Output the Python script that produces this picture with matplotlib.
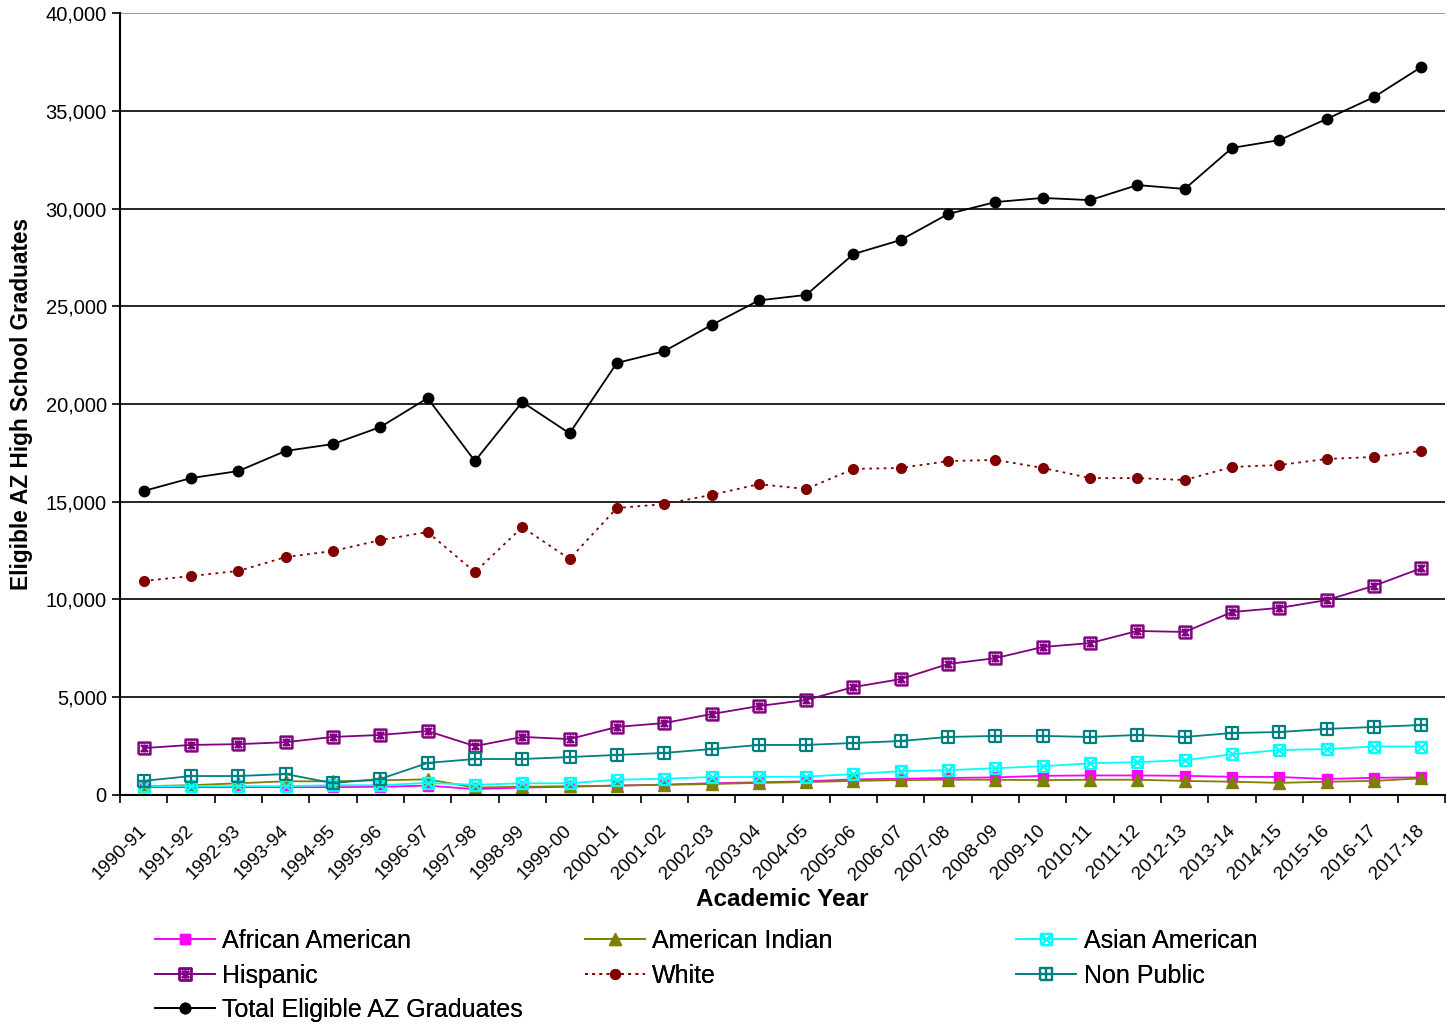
import matplotlib
matplotlib.use("Agg")
import matplotlib.pyplot as plt
from matplotlib.path import Path
from matplotlib.ticker import FuncFormatter, FixedLocator
import numpy as np

plt.rcParams['font.family'] = ['Liberation Sans', 'DejaVu Sans']

years = ["1990-91", "1991-92", "1992-93", "1993-94", "1994-95", "1995-96", "1996-97",
         "1997-98", "1998-99", "1999-00", "2000-01", "2001-02", "2002-03", "2003-04",
         "2004-05", "2005-06", "2006-07", "2007-08", "2008-09", "2009-10", "2010-11",
         "2011-12", "2012-13", "2013-14", "2014-15", "2015-16", "2016-17", "2017-18"]

african_american = [400, 400, 400, 400, 400, 420, 480, 300, 380, 420, 480, 530, 600, 650,
                    700, 800, 830, 870, 900, 980, 1000, 1000, 980, 930, 920, 820, 880, 900]
american_indian = [450, 500, 600, 700, 700, 750, 800, 380, 420, 450, 480, 520, 560, 620,
                   660, 720, 760, 780, 780, 760, 780, 780, 720, 680, 620, 680, 720, 850]
asian_american = [450, 450, 450, 450, 500, 500, 620, 520, 600, 600, 780, 830, 920, 920,
                  940, 1070, 1220, 1270, 1370, 1470, 1620, 1680, 1780, 2080, 2300, 2350, 2480, 2480]
hispanic = [2400, 2560, 2600, 2700, 2970, 3070, 3270, 2500, 2970, 2860, 3480, 3680, 4140, 4550,
            4860, 5520, 5930, 6700, 7000, 7570, 7770, 8390, 8340, 9360, 9570, 9970, 10700, 11600]
white = [10950, 11200, 11460, 12170, 12480, 13040, 13450, 11400, 13700, 12070, 14680, 14880,
         15350, 15900, 15650, 16680, 16730, 17080, 17140, 16730, 16210, 16210, 16110, 16780,
         16880, 17190, 17290, 17600]
non_public = [720, 970, 970, 1070, 610, 820, 1640, 1840, 1840, 1940, 2050, 2150, 2350, 2560,
              2560, 2660, 2760, 2970, 3020, 3020, 2970, 3070, 2970, 3170, 3220, 3380, 3480, 3580]
total = [15550, 16210, 16570, 17600, 17950, 18820, 20300, 17080, 20100, 18500, 22100, 22700,
         24040, 25300, 25580, 27670, 28390, 29720, 30330, 30540, 30430, 31200, 31000, 33100,
         33500, 34580, 35700, 37240]

# boxed markers like the Excel ones
M, L = Path.MOVETO, Path.LINETO
sq = [(-1, -1), (1, -1), (1, 1), (-1, 1), (-1, -1)]
box_x = Path(sq + [(-1, -1), (1, 1), (-1, 1), (1, -1)], [M, L, L, L, L, M, L, M, L])
box_plus = Path(sq + [(0, -1), (0, 1), (-1, 0), (1, 0)], [M, L, L, L, L, M, L, M, L])
box_star = Path(sq + [(-0.6, -0.6), (0.6, 0.6), (-0.6, 0.6), (0.6, -0.6), (0, -0.7), (0, 0.7)],
                [M, L, L, L, L, M, L, M, L, M, L])

fig = plt.figure(figsize=(14.53, 10.25), dpi=100)
ax = fig.add_axes([0.0826, 0.2244, 0.9119, 0.7629])
x = np.arange(len(years))

h_afam, = ax.plot(x, african_american, color='#FF00FF', lw=1.3, marker='s', ms=7,
                  label='African American')
h_amind, = ax.plot(x, american_indian, color='#808000', lw=1.3, marker='^', ms=8,
                   label='American Indian')
h_asian, = ax.plot(x, asian_american, color='#00FFFF', lw=1.3, marker=box_x, ms=8,
                   mfc='none', mew=1.6, label='Asian American')
h_hisp, = ax.plot(x, hispanic, color='#800080', lw=1.3, marker=box_star, ms=8.5,
                  mfc='none', mew=1.8, label='Hispanic')
h_white, = ax.plot(x, white, color='#800000', lw=1.3, ls=(0, (1.5, 2.5)), marker='o', ms=7,
                   label='White')
h_np, = ax.plot(x, non_public, color='#008080', lw=1.3, marker=box_plus, ms=8.5,
                mfc='none', mew=1.6, label='Non Public')
h_tot, = ax.plot(x, total, color='black', lw=1.3, marker='o', ms=7.5,
                 label='Total Eligible AZ Graduates')

ax.set_xlim(-0.5, len(years) - 0.5)
ax.set_ylim(0, 40000)
ax.set_yticks(np.arange(0, 40001, 5000))
ax.yaxis.set_major_formatter(FuncFormatter(lambda v, p: f"{int(v):,}"))
for yv in np.arange(5000, 40001, 5000):
    ax.axhline(yv, color='black' if yv < 40000 else '#888888', lw=1.2, zorder=0)

ax.xaxis.set_major_locator(FixedLocator(np.arange(-0.5, len(years), 1.0)))
ax.xaxis.set_major_formatter(FuncFormatter(lambda v, p: ""))
ax.set_xticks(x, minor=True)
ax.set_xticklabels(years, minor=True, rotation=45, ha='right', va='center',
                   rotation_mode='anchor', fontsize=13.5)
ax.tick_params(axis='x', which='minor', length=0, pad=24)
ax.tick_params(axis='x', which='major', length=6, width=1.2, direction='out')
ax.tick_params(axis='y', length=6, width=1.2, direction='out', labelsize=14.5)

for s in ['top', 'right']:
    ax.spines[s].set_visible(False)
for s in ['left', 'bottom']:
    ax.spines[s].set_linewidth(1.5)

ax.set_xlabel("Academic Year", fontsize=17.5, fontweight='bold', labelpad=3)
ax.set_ylabel("Eligible AZ High School Graduates", fontsize=16.3, fontweight='bold', labelpad=9)

cols = [([h_afam, h_hisp, h_tot], 0.1065), ([h_amind, h_white], 0.4025), ([h_asian, h_np], 0.6995)]
for hs, xpos in cols:
    lg = fig.legend(handles=hs, loc='upper left', bbox_to_anchor=(xpos, 0.0935), frameon=False,
                    fontsize=18, handlelength=2.4, handletextpad=0.3, labelspacing=0.42,
                    borderaxespad=0, borderpad=0)
    fig.add_artist(lg)

fig.savefig("out.png", dpi=100)
